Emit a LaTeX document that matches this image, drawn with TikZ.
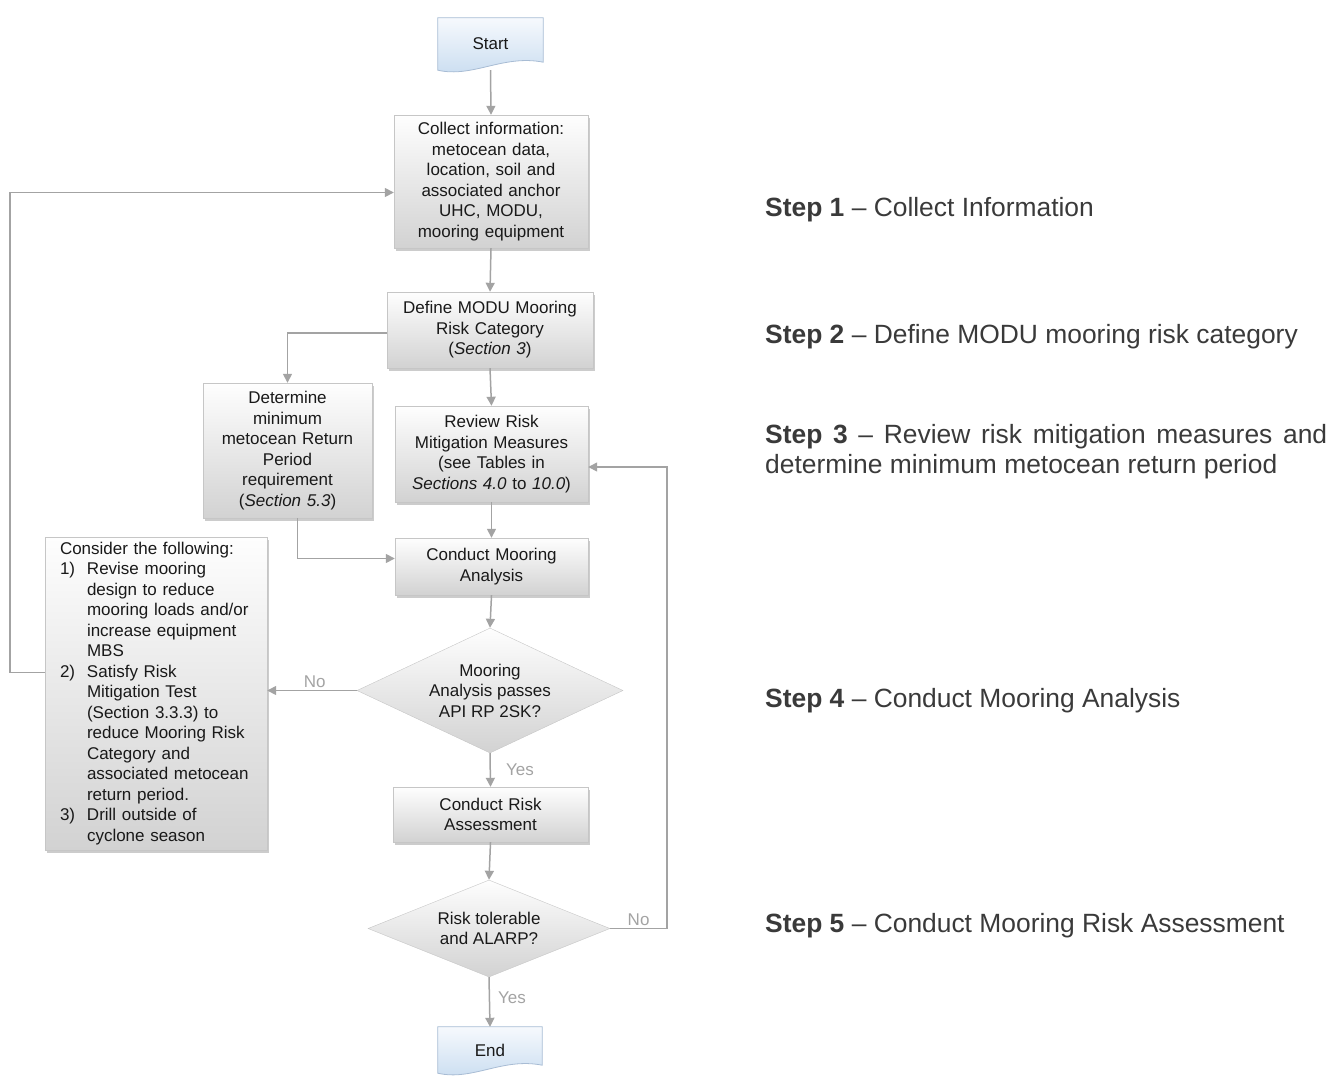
\documentclass[tikz,border=0pt]{standalone}
\usepackage{fontspec}
\setmainfont{Liberation Sans}
\usetikzlibrary{shapes.geometric,arrows.meta,shadows,backgrounds}

\definecolor{linegray}{HTML}{A3A3A3}
\definecolor{boxline}{HTML}{C6C6C6}
\definecolor{boxtop}{HTML}{FEFEFE}
\definecolor{boxbottom}{HTML}{D2D2D2}
\definecolor{termtop}{HTML}{F6F9FD}
\definecolor{termbottom}{HTML}{C8DCF0}
\definecolor{termline}{HTML}{A8BCD4}
\definecolor{steptext}{HTML}{3A3A3A}

\newcommand{\boxfont}{\fontsize{17}{20.5}\selectfont}
\newcommand{\stepfont}{\fontsize{26.4}{30}\selectfont}

\tikzset{
  box/.style={rectangle, draw=boxline, top color=boxtop, bottom color=boxbottom,
    drop shadow={shadow xshift=2pt, shadow yshift=-3pt, fill=black!40, opacity=0.5},
    align=center, inner xsep=5pt, inner ysep=0pt, font=\boxfont, text=black!90},
  decision/.style={diamond, draw=boxline, top color=boxtop, bottom color=boxbottom,
    align=center, inner sep=0pt, font=\boxfont, text=black!90},
  terminal/.style={inner sep=0pt, font=\boxfont, text=black!90},
  termfill/.style={top color=termtop, bottom color=termbottom, draw=termline, line width=0.8pt},
  flow/.style={draw=linegray, line width=1.5pt, -{Triangle[length=9pt,width=9pt]}},
  answer/.style={text=linegray, font=\boxfont, inner sep=2pt},
  steplabel/.style={anchor=west, text=steptext, font=\stepfont, inner sep=0pt}
}

\begin{document}
\begin{tikzpicture}[x=1pt, y=-1pt]
\useasboundingbox (0,0) rectangle (1333,1079);

% terminals
\node[terminal, minimum width=105pt, minimum height=52pt] (start) at (490.5,44) {Start};
\node[terminal, minimum width=104pt, minimum height=46pt] (finish) at (490,1050) {End};
\begin{scope}[on background layer]
  \shadedraw[termfill] (start.north west) -- (start.north east) -- ([yshift=8pt]start.south east)
    .. controls ([xshift=-40pt,yshift=16pt]start.south east) and ([xshift=35pt,yshift=-8pt]start.south west) .. (start.south west) -- cycle;
  \shadedraw[termfill] (finish.north west) -- (finish.north east) -- ([yshift=8pt]finish.south east)
    .. controls ([xshift=-40pt,yshift=16pt]finish.south east) and ([xshift=35pt,yshift=-8pt]finish.south west) .. (finish.south west) -- cycle;
\end{scope}

% process boxes
\node[box, text width=184pt, minimum height=133pt] (collect) at (491,181.5)
  {Collect information:\\ metocean data,\\ location, soil and\\ associated anchor\\ UHC, MODU,\\ mooring equipment};
\node[box, text width=196pt, minimum height=76pt] (define) at (490,330)
  {Define MODU Mooring\\ Risk Category\\ (\textit{Section 3})};
\node[box, text width=159pt, minimum height=135pt] (determine) at (287.5,450.5)
  {Determine\\ minimum\\ metocean Return\\ Period\\ requirement\\ (\textit{Section 5.3})};
\node[box, text width=183pt, minimum height=96pt] (review) at (491.5,454)
  {Review Risk\\ Mitigation Measures\\ (see Tables in\\ \textit{Sections 4.0} to \textit{10.0})};
\node[box, text width=183pt, minimum height=57pt] (analysis) at (491.5,566.5)
  {Conduct Mooring\\ Analysis};
\node[box, text width=192pt, inner xsep=15pt, minimum height=313pt, align=left] (consider) at (156,693.5)
  {Consider the following:\\
   \makebox[27pt][l]{1)}Revise mooring\\
   \hspace*{27pt}design to reduce\\
   \hspace*{27pt}mooring loads and/or\\
   \hspace*{27pt}increase equipment\\
   \hspace*{27pt}MBS\\
   \makebox[27pt][l]{2)}Satisfy Risk\\
   \hspace*{27pt}Mitigation Test\\
   \hspace*{27pt}(Section 3.3.3) to\\
   \hspace*{27pt}reduce Mooring Risk\\
   \hspace*{27pt}Category and\\
   \hspace*{27pt}associated metocean\\
   \hspace*{27pt}return period.\\
   \makebox[27pt][l]{3)}Drill outside of\\
   \hspace*{27pt}cyclone season};
\node[box, text width=185pt, minimum height=55pt] (assess) at (490.5,814.5)
  {Conduct Risk\\ Assessment};

% decisions
\node[decision, aspect=2.13, minimum width=266pt, minimum height=125pt] (passes) at (490,690.5)
  {Mooring\\ Analysis passes\\ API RP 2SK?};
\node[decision, aspect=2.5, minimum width=242pt, minimum height=97pt] (tolerable) at (489,928.5)
  {Risk tolerable\\ and ALARP?};

\coordinate (loop) at (10,400);
\coordinate (back) at (667,700);

% connectors
\draw[flow] (start.south) -- (collect.north);
\draw[flow] (collect.south) -- (define.north);
\draw[flow] ([yshift=-3pt]define.west) -| (determine.north);
\draw[flow] (define.south) -- (review.north);
\draw[flow] (review.south) -- (analysis.south |- analysis.north);
\draw[flow] ([xshift=10pt]determine.south) |- ([yshift=8pt]analysis.west);
\draw[flow] (analysis.south) -- (passes.north);
\draw[flow] (passes.west) -- node[answer, above, pos=0.47] {No} (passes.west -| consider.east);
\draw[flow] ([yshift=21pt]consider.west) -- ([yshift=21pt]consider.west -| loop) |- ([yshift=-11pt]collect.west);
\draw[flow] (passes.south) -- node[answer, right=13pt] {Yes} (assess.north);
\draw[flow] (assess.south) -- (tolerable.north);
\draw[flow] (tolerable.east) -| node[answer, above, pos=0.25] {No} (back) |- ([yshift=-13pt]review.east);
\draw[flow] (tolerable.south) -- node[answer, right=6pt, pos=0.42] {Yes} (finish.north);

% steps
\node[steplabel] (step1) at (765,210) {\textbf{Step 1} \textendash{} Collect Information};
\node[steplabel] (step2) at (765,337) {\textbf{Step 2} \textendash{} Define MODU mooring risk category};
\node[steplabel, text width=562pt, align=justify] (step3) at (765,452)
  {\textbf{Step 3} \textendash{} Review risk mitigation measures and\linebreak determine minimum metocean return period};
\node[steplabel] (step4) at (765,701) {\textbf{Step 4} \textendash{} Conduct Mooring Analysis};
\node[steplabel] (step5) at (765,926) {\textbf{Step 5} \textendash{} Conduct Mooring Risk Assessment};
\end{tikzpicture}
\end{document}
